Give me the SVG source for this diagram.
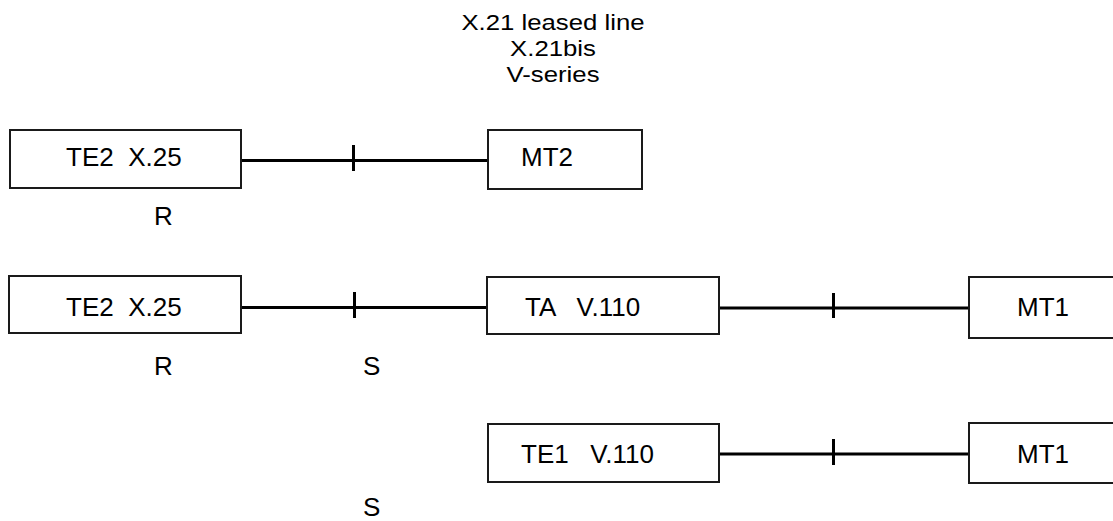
<svg xmlns="http://www.w3.org/2000/svg" width="1113" height="521" viewBox="0 0 1113 521">
<style>
  .box { fill: #ffffff; stroke: #1a1a1a; stroke-width: 2; }
  .lbl { font-family: "Liberation Sans", Arial, sans-serif; font-size: 26px; fill: #000000; }
  .ttl { font-family: "Liberation Sans", Arial, sans-serif; font-size: 23px; fill: #000000; text-anchor: middle; }
  .wire { stroke: #000000; stroke-width: 3; fill: none; }
  .tick { stroke: #000000; stroke-width: 3; }
</style>
<rect width="1113" height="521" fill="#ffffff"/>

<g id="title" transform="translate(553,0) scale(1.12,1)">
  <text class="ttl" x="0" y="30">X.21 leased line</text>
  <text class="ttl" x="0" y="56">X.21bis</text>
  <text class="ttl" x="0" y="82">V-series</text>
</g>

<g id="connectors">
  <line class="wire" x1="241" y1="160.5" x2="488" y2="160.5"/>
  <line class="tick" x1="353.5" y1="145" x2="353.5" y2="171"/>
  <line class="wire" x1="241" y1="307.5" x2="487" y2="307.5"/>
  <line class="tick" x1="354.5" y1="292" x2="354.5" y2="318"/>
  <line class="wire" x1="719" y1="308" x2="969" y2="308"/>
  <line class="tick" x1="833.5" y1="293" x2="833.5" y2="318"/>
  <line class="wire" x1="719" y1="454" x2="969" y2="454"/>
  <line class="tick" x1="833.5" y1="439" x2="833.5" y2="465"/>
</g>

<g id="te2-row1">
  <rect class="box" x="10" y="130" width="231" height="58"/>
  <text class="lbl" x="66" y="166" xml:space="preserve">TE2  X.25</text>
</g>
<g id="mt2">
  <rect class="box" x="488" y="130" width="154" height="59"/>
  <text class="lbl" x="521" y="166">MT2</text>
</g>
<g id="r-row1"><text class="lbl" x="154" y="225">R</text></g>

<g id="te2-row2">
  <rect class="box" x="9" y="276" width="232" height="57"/>
  <text class="lbl" x="66" y="316" xml:space="preserve">TE2  X.25</text>
</g>
<g id="ta">
  <rect class="box" x="487" y="277" width="232" height="57"/>
  <text class="lbl" x="525" y="316" xml:space="preserve">TA   V.110</text>
</g>
<g id="mt1-row2">
  <rect class="box" x="969" y="277" width="160" height="61"/>
  <text class="lbl" x="1017" y="316">MT1</text>
</g>
<g id="r-row2"><text class="lbl" x="154" y="375">R</text></g>
<g id="s-row2"><text class="lbl" x="363" y="375">S</text></g>

<g id="te1">
  <rect class="box" x="488" y="424" width="231" height="58"/>
  <text class="lbl" x="521" y="463" xml:space="preserve">TE1   V.110</text>
</g>
<g id="mt1-row3">
  <rect class="box" x="969" y="423" width="160" height="60"/>
  <text class="lbl" x="1017" y="463">MT1</text>
</g>
<g id="s-row3"><text class="lbl" x="363" y="516">S</text></g>
</svg>
